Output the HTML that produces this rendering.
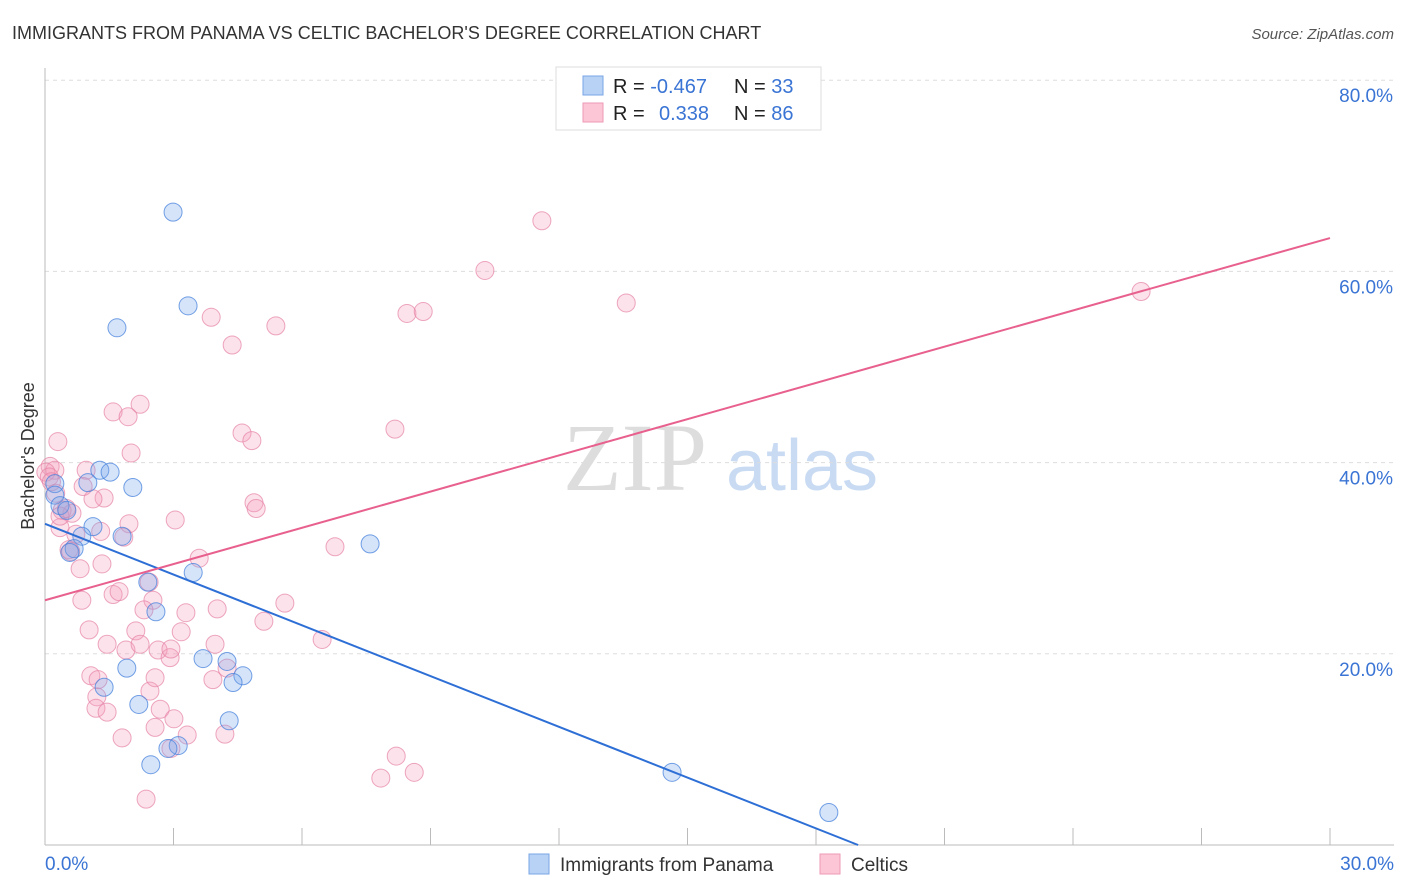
<!DOCTYPE html>
<html><head><meta charset="utf-8">
<style>
body{margin:0;background:#fff;font-family:"Liberation Sans",sans-serif;}
#wrap{position:relative;width:1406px;height:892px;overflow:hidden;}
</style></head>
<body>
<div id="wrap">
<svg id="chart" width="1406" height="892" xmlns="http://www.w3.org/2000/svg">
<text x="12" y="39" font-size="18" fill="#333">IMMIGRANTS FROM PANAMA VS CELTIC BACHELOR'S DEGREE CORRELATION CHART</text>
<text x="1394" y="39" font-size="15" fill="#555" font-style="italic" text-anchor="end">Source: ZipAtlas.com</text>
<text x="34" y="456" font-size="18" fill="#333" text-anchor="middle" transform="rotate(-90 34 456)">Bachelor's Degree</text>
<g>
<text x="635" y="490" font-size="96" fill="#ddd" font-family="Liberation Serif,serif" text-anchor="middle">ZIP</text>
<text x="802" y="490" font-size="72" fill="#c9dbf3" text-anchor="middle">atlas</text>
</g>
<g id="grid"></g>
<g id="axes"></g>
<g id="pts"></g>
<g id="lines"></g>
<g>
<rect x="556" y="67" width="265" height="63" fill="#fff" stroke="#ddd"/>
<rect x="583" y="76" width="20" height="19" fill="#b8d2f5" stroke="#7aa5e6"/>
<rect x="583" y="103" width="20" height="19" fill="#fcc6d6" stroke="#ee9ab6"/>
<text x="613" y="93" font-size="20" fill="#222">R = <tspan fill="#3a74d4">-0.467</tspan></text>
<text x="734" y="93" font-size="20" fill="#222">N = <tspan fill="#3a74d4">33</tspan></text>
<text x="613" y="120" font-size="20" fill="#222">R = <tspan fill="#3a74d4" x="659">0.338</tspan></text>
<text x="734" y="120" font-size="20" fill="#222">N = <tspan fill="#3a74d4">86</tspan></text>
</g>
<g>
<rect x="529" y="854" width="20" height="20" fill="#b8d2f5" stroke="#7aa5e6"/>
<text x="560" y="871" font-size="19" fill="#333">Immigrants from Panama</text>
<rect x="820" y="854" width="20" height="20" fill="#fcc6d6" stroke="#ee9ab6"/>
<text x="851" y="871" font-size="19" fill="#333">Celtics</text>
</g>
</svg>
</div>
<script>
const yTicks=[20,40,60,80];
const xTickCount=10;
const xLabels=["0.0%","30.0%"];
const blueX=[2.99,3.34,1.68,1.28,1.52,1.00,2.05,0.23,0.23,0.35,0.51,1.12,0.86,1.80,0.68,0.58,2.40,3.46,2.59,7.59,3.69,4.25,1.91,4.62,4.39,1.38,2.19,4.30,3.11,2.87,2.47,14.64,18.30];
const blueY=[66.2,56.4,54.1,39.2,39.0,37.9,37.4,37.8,36.6,35.5,35.0,33.3,32.3,32.3,31.0,30.6,27.5,28.5,24.4,31.5,19.5,19.2,18.5,17.7,17.0,16.5,14.7,13.0,10.4,10.1,8.4,7.6,3.4];
const pinkX=[11.60,10.27,13.57,25.59,3.88,5.39,8.45,8.83,4.37,2.22,1.59,1.94,0.30,2.01,4.60,4.83,8.17,0.12,0.23,0.02,0.96,0.89,1.38,1.12,0.40,0.63,4.88,4.93,3.04,1.96,0.35,1.84,0.72,0.56,6.77,3.60,1.33,0.82,0.86,1.59,1.73,2.43,2.52,2.31,3.29,4.02,5.60,5.11,6.47,1.03,2.12,3.18,3.97,1.45,1.89,2.22,2.64,2.92,2.94,1.07,1.24,2.45,1.21,2.57,3.92,4.25,1.19,1.45,2.69,3.01,2.57,3.32,1.80,4.20,2.94,8.20,7.84,8.62,2.36,0.1,0.15,0.35,0.5,0.6,1.3,0.25];
const pinkY=[65.3,60.1,56.7,57.9,55.2,54.3,55.6,55.8,52.3,46.1,45.3,44.8,42.2,41.0,43.1,42.3,43.5,39.6,39.2,39.0,39.2,37.5,36.3,36.2,35.0,34.7,35.8,35.2,34.0,33.6,33.2,32.2,32.5,30.9,31.2,30.0,29.4,28.9,25.6,26.2,26.5,27.5,25.6,24.6,24.3,24.7,25.3,23.4,21.5,22.5,22.4,22.3,21.0,21.0,20.4,21.0,20.4,19.6,20.5,17.7,17.3,16.1,15.5,17.5,17.3,18.5,14.3,13.9,14.2,13.2,12.3,11.5,11.2,11.6,10.1,9.3,7.0,7.6,4.8,38.5,38.0,34.4,35.2,30.7,32.8,36.8];
const blueLine=[33.6,-1.77];
const pinkLine=[25.6,1.263];
const NS="http://www.w3.org/2000/svg";
const X=v=>45+v*(1285/30);
const Y=v=>845-v*9.56;
function mk(tag,attrs,parent){const e=document.createElementNS(NS,tag);for(const k in attrs)e.setAttribute(k,attrs[k]);parent.appendChild(e);return e;}
const grid=document.getElementById('grid'),axes=document.getElementById('axes'),pts=document.getElementById('pts'),lines=document.getElementById('lines');
yTicks.forEach(t=>{
 const l=mk('line',{x1:45,x2:1394,y1:Y(t),y2:Y(t),stroke:'#ddd','stroke-dasharray':'4 4'},grid);
 
 
 const tx=mk('text',{x:1393,y:Y(t)+22,'font-size':19,fill:'#3a74d4','text-anchor':'end'},grid);
 tx.textContent=t.toFixed(1)+'%';
 
 
});
const ax=mk('line',{x1:45,x2:1394,y1:845,y2:845,stroke:'#bbb'},axes);


const ay=mk('line',{x1:45,x2:45,y1:68,y2:845,stroke:'#bbb'},axes);


for(let i=0;i<=xTickCount;i++){
 const t=mk('line',{x1:X(i*3),x2:X(i*3),y1:828,y2:845,stroke:'#bbb'},axes);
 
 
}
const l0=mk('text',{x:45,y:870,'font-size':19,fill:'#3a74d4'},axes);l0.textContent=xLabels[0];


const l1=mk('text',{x:1394,y:870,'font-size':19,fill:'#3a74d4','text-anchor':'end'},axes);l1.textContent=xLabels[1];


pinkX.forEach((x,i)=>{
 const c=mk('circle',{cx:X(x),cy:Y(pinkY[i]),r:9,fill:'rgba(245,160,190,0.3)',stroke:'rgba(230,130,165,0.7)','stroke-width':1},pts);
 
 
});
blueX.forEach((x,i)=>{
 const c=mk('circle',{cx:X(x),cy:Y(blueY[i]),r:9,fill:'rgba(120,165,235,0.3)',stroke:'rgba(70,130,220,0.75)','stroke-width':1},pts);
 
 
});
const bEnd=-blueLine[0]/blueLine[1];
const bl=mk('line',{x1:X(0),y1:Y(blueLine[0]),x2:X(bEnd),y2:Y(0),stroke:'#2e6fd6','stroke-width':2},lines);


const pl=mk('line',{x1:X(0),y1:Y(pinkLine[0]),x2:X(30),y2:Y(pinkLine[0]+pinkLine[1]*30),stroke:'#e8608e','stroke-width':2},lines);


</script>
</body></html>
